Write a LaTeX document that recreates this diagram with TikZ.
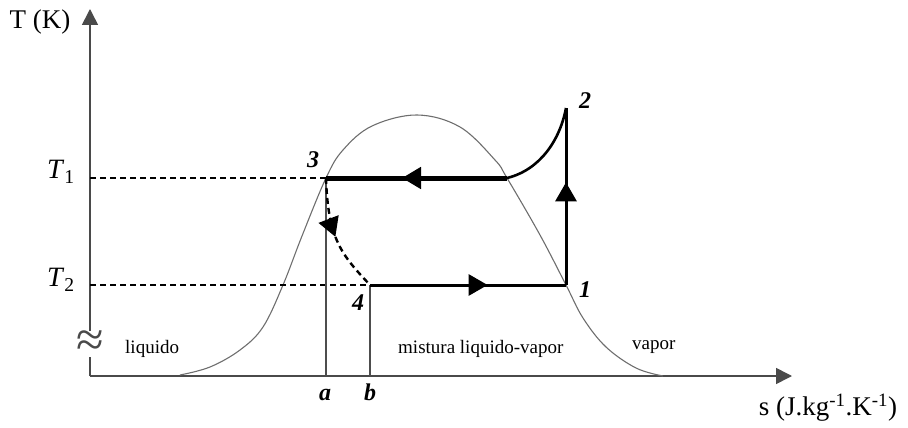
\documentclass[tikz,border=0pt]{standalone}
\usepackage{fontspec}
\setmainfont{Liberation Serif}
\usetikzlibrary{arrows.meta,decorations.markings}
\definecolor{tsaxis}{HTML}{4A4A4A}
\definecolor{tsdome}{HTML}{6E6E6E}
\tikzset{
  axisline/.style={draw=tsaxis, line width=1.6pt, -{Triangle[length=16pt,width=16pt]}},
  dome/.style={draw=tsdome, line width=1.1pt},
  guide/.style={draw=black, line width=1.6pt, dash pattern=on 6pt off 4pt},
  drop/.style={draw=tsdome!70!black, line width=1.1pt},
  midarrow/.style={postaction={decorate}, decoration={markings,
                   mark=at position #1 with {\arrow{Triangle[length=19pt,width=21pt]}}}},
  ptlabel/.style={font=\fontsize{24}{24}\selectfont\bfseries\itshape, inner sep=0pt, anchor=base},
  region/.style={font=\fontsize{19}{20}\selectfont, inner sep=0pt, anchor=base west},
  axlabel/.style={font=\fontsize{27}{28}\selectfont, inner sep=0pt},
}

\begin{document}
\begin{tikzpicture}[x=1pt, y=-1pt]
\useasboundingbox (0,0) rectangle (908,428);

% axes
\coordinate (O) at (90,376);
\coordinate (ytop) at (90,9);
\coordinate (xend) at (792,376);
\draw[axisline] (O) -- (ytop);
\draw[axisline] (O) -- (xend);

% saturation dome
\draw[dome] plot[smooth, tension=0.6] coordinates {
  (180,375) (210,367) (240,350) (263,327) (283,285) (302,236) (326,178)
  (343,150) (372,126) (417,115) (460,127) (495,160) (507,178) (540,235)
  (566,285) (583,318) (606,347) (636,368) (663,376)};

% cycle states
\coordinate (p1) at (566,285);
\coordinate (p2) at (566,108);
\coordinate (p3) at (326,178);
\coordinate (p4) at (370,285);
\coordinate (sat) at (507,178);
\coordinate (T1ax) at (90,178);
\coordinate (T2ax) at (90,285);
\coordinate (pa) at (326,376);
\coordinate (pb) at (370,376);

% guides
\draw[guide] (T1ax) -- (p3);
\draw[guide] (T2ax) -- (p4);
\draw[drop] (p3) -- (pa);
\draw[drop] (p4) -- (pb);

% cycle
\draw[line width=3pt, midarrow=0.6] (p4) -- (p1);
\draw[line width=3pt, midarrow=0.58] (p1) -- (p2);
\draw[line width=2.6pt] (p2) .. controls (560,140) and (540,170) .. (sat);
\draw[line width=5pt, midarrow=0.58] (sat) -- (p3);
\draw[line width=2.4pt, dash pattern=on 6pt off 4pt, midarrow=0.5]
  (p3) .. controls (328,240) and (342,255) .. (p4);

% labels
\node[axlabel] (tlab) at (40,22) {T (K)};
\node[axlabel] (slab) at (828,408) {s (J.kg\textsuperscript{-1}.K\textsuperscript{-1})};
\node[axlabel, font=\fontsize{28}{28}\selectfont] (t1) at (61,172) {\textit{T}\textsubscript{1}};
\node[axlabel, font=\fontsize{28}{28}\selectfont] (t2) at (61,280) {\textit{T}\textsubscript{2}};
\node[fill=white, inner sep=0pt, text=tsaxis, font=\fontsize{50}{50}\selectfont] (brk) at (90,344) {≈};

\node[ptlabel] (l1) at (585,297) {1};
\node[ptlabel] (l2) at (585,108) {2};
\node[ptlabel] (l3) at (313,167) {3};
\node[ptlabel] (l4) at (358,310) {4};
\node[ptlabel] (la) at (325,400) {a};
\node[ptlabel] (lb) at (370,400) {b};

\node[region] (liq) at (125,353) {liquido};
\node[region] (mix) at (398,353) {mistura liquido-vapor};
\node[region] (vap) at (632,349) {vapor};
\end{tikzpicture}
\end{document}
